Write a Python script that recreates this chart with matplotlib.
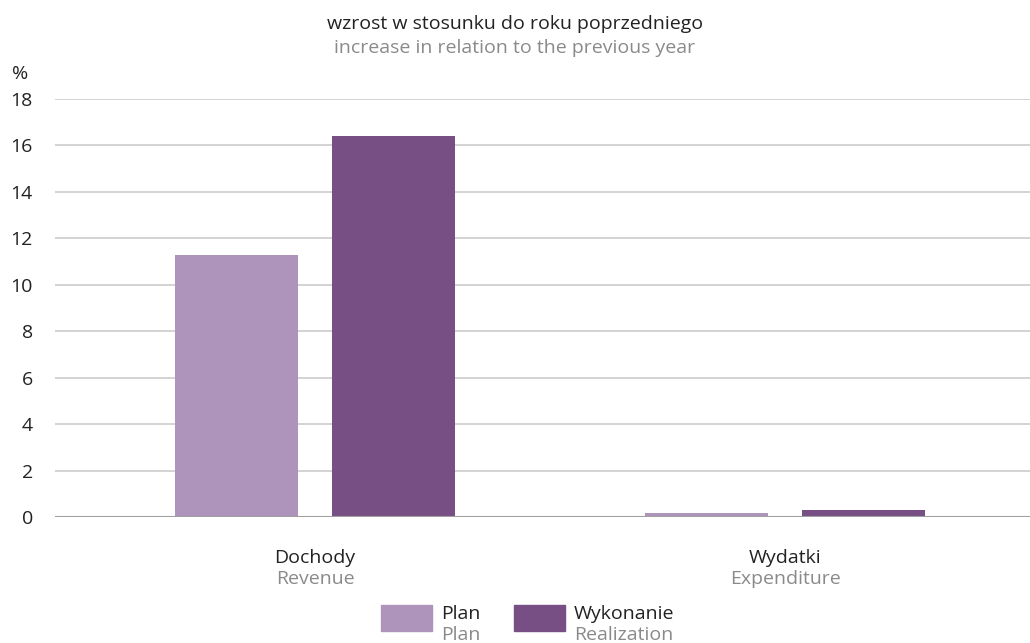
import numpy as np
import matplotlib.pyplot as plt
from matplotlib.patches import Rectangle

# data
categories_pl = ["Dochody", "Wydatki"]
categories_en = ["Revenue", "Expenditure"]
plan = [11.28, 0.17]
realization = [16.41, 0.30]
series_pl = ["Plan", "Wykonanie"]
series_en = ["Plan", "Realization"]
yticks = [0, 2, 4, 6, 8, 10, 12, 14, 16, 18]

PLAN_COLOR = "#ae93bb"
REAL_COLOR = "#774f84"
DARK = "#222222"
GRAY = "#8a8a8a"
FS = 14

plt.rcParams["font.family"] = ["Open Sans", "DejaVu Sans"]

fig = plt.figure(figsize=(10.30, 6.43), dpi=100)
ax = fig.add_axes([55 / 1030, 1 - 517 / 643, 975 / 1030, 418 / 643])

x = np.arange(len(categories_pl))
w = 0.262
ax.bar(x - 0.167, plan, w, color=PLAN_COLOR, zorder=3)
ax.bar(x + 0.167, realization, w, color=REAL_COLOR, zorder=3)

ax.set_xlim(-0.553, 1.521)
ax.set_ylim(0, 18)
ax.set_yticks(yticks)
ax.set_yticklabels([str(t) for t in yticks], fontsize=FS, color=DARK)
ax.tick_params(axis="y", length=0, pad=16)
for lab in ax.get_yticklabels():
    lab.set_horizontalalignment("right")
ax.set_xticks([])
ax.grid(axis="y", color="#cccccc", linewidth=1.2, zorder=0)
ax.axhline(0, color="#a0a0a0", linewidth=1.5, zorder=4)
for s in ax.spines.values():
    s.set_visible(False)

# category labels
for xi, pl, en in zip(x, categories_pl, categories_en):
    ax.text(xi, -1.75, pl, ha="center", va="center", fontsize=FS, color=DARK)
    ax.text(xi, -2.65, en, ha="center", va="center", fontsize=FS, color=GRAY)

# titles
fig.text(0.5, 1 - 24 / 643, "wzrost w stosunku do roku poprzedniego",
         ha="center", va="center", fontsize=FS, color=DARK)
fig.text(0.5, 1 - 48 / 643, "increase in relation to the previous year",
         ha="center", va="center", fontsize=FS, color=GRAY)
fig.text(20 / 1030, 1 - 74 / 643, "%", ha="center", va="center", fontsize=FS, color=DARK)

# legend
leg_items = [(381, PLAN_COLOR, series_pl[0], series_en[0]),
             (514, REAL_COLOR, series_pl[1], series_en[1])]
for x0, col, pl, en in leg_items:
    fig.patches.append(Rectangle((x0 / 1030, 1 - 631 / 643), 51 / 1030, 26 / 643,
                                 transform=fig.transFigure, color=col))
    fig.text((x0 + 60) / 1030, 1 - 614 / 643, pl, ha="left", va="center",
             fontsize=FS, color=DARK)
    fig.text((x0 + 60) / 1030, 1 - 635 / 643, en, ha="left", va="center",
             fontsize=FS, color=GRAY)

fig.savefig("out.png", dpi=100)
